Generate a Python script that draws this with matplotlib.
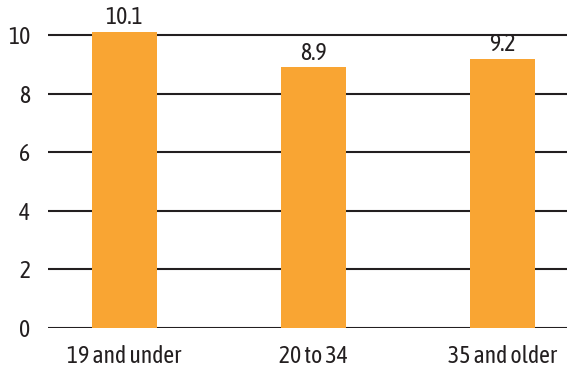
import matplotlib
matplotlib.use("Agg")
import matplotlib.pyplot as plt
from matplotlib import font_manager

categories = ["19 and under", "20 to 34", "35 and older"]
values = [10.1, 8.9, 9.2]
yticks = [0, 2, 4, 6, 8, 10]

names = {f.name for f in font_manager.fontManager.ttflist}
fam = "DejaVu Sans"
for cand in ["Asap Condensed", "Roboto Condensed", "PT Sans Narrow", "Barlow Condensed", "Archivo Narrow"]:
    if cand in names:
        fam = cand
        break
plt.rcParams['font.family'] = [fam, 'DejaVu Sans']
plt.rcParams['font.weight'] = 'normal'

fig = plt.figure(figsize=(5.67, 3.78), dpi=100)
ax = fig.add_axes([48/567, 50/378, 1 - 48/567, 322/378])
x = list(range(len(categories)))
ax.bar(x, values, width=0.344, color="#F9A533", zorder=3)
for yv in yticks:
    ax.axhline(yv, color="#231F20", linewidth=1.5, zorder=2)
for xi, v in zip(x, values):
    ax.text(xi, v + 0.1, f"{v}", ha="center", va="bottom", fontsize=17, color="#231F20", fontweight="normal")
ax.set_xlim(-0.405, 2.341)
ax.set_ylim(0, 11)
ax.set_yticks(yticks)
ax.set_yticklabels([str(t) for t in yticks], fontsize=17, color="#231F20", fontweight="normal")
ax.set_xticks(x)
ax.set_xticklabels(categories, fontsize=17, color="#231F20", fontweight="normal")
ax.tick_params(axis="both", length=0)
ax.tick_params(axis="y", pad=13)
ax.tick_params(axis="x", pad=12)
for s in ax.spines.values():
    s.set_visible(False)
fig.savefig("out.png", dpi=100)
